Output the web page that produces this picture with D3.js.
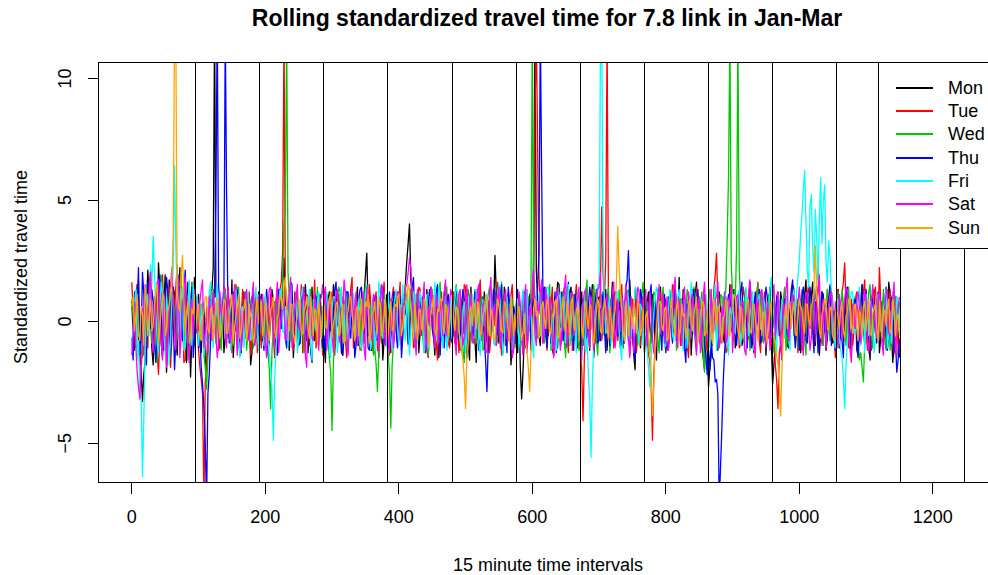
<!DOCTYPE html>
<html><head><meta charset="utf-8">
<script src="https://cdn.jsdelivr.net/npm/d3@7"></script>
<style>
html,body{margin:0;padding:0;background:#fff;}
svg{display:block;font-family:Arial,"Liberation Sans",sans-serif;}
</style></head><body>
<svg id="chart" width="988" height="575"></svg>
<script>
// Rolling standardized travel time, one series per weekday,
// sampled every 2nd 15-minute interval (one row below = one day).
const days = ["Mon", "Tue", "Wed", "Thu", "Fri", "Sat", "Sun"];
const sampleStep = 2;

const mon = [
.8,-.5,-1.2,.4,1.5,-.9,-.4,-2.0,-3.3,-2.2,-1.6,.7,2.1,1.0,.3,-1.1,-1.8,.6,1.2,-.3,2.4,1.3,-.9,-1.5,.6,1.9,-2.1,-.6,1.7,.2,-.3,1.4,1.1,-.8,-1.4,.5,2.2,-.2,.5,1.5,-.8,-1.7,1.6,.3,-2.3,-.7,.9,1.8,
-.5,.9,1.1,-.8,-1.3,.2,.7,-1.6,-2.0,-.9,.4,1.2,1.3,2.2,12.5,1.0,.9,-.4,-1.1,.8,.6,-1.3,-.7,.5,1.4,-.9,-.2,1.7,-1.5,-.3,.8,1.1,.3,-1.4,-1.0,.6,1.2,-.5,-.6,1.0,.5,-1.8,-1.3,.3,.9,-.7,-.4,1.2,
.4,1.1,-.8,-.2,1.0,.6,-1.4,-.7,.2,1.3,.9,-1.0,-.6,.4,1.3,.8,-.3,1.6,2.6,.7,.5,-.9,-1.2,.3,.8,-1.5,-.5,.9,1.1,-.4,-.9,1.2,.3,-1.1,1.5,.5,-1.3,-.2,.6,1.4,-.2,-.8,1.0,.2,-.7,1.1,.2,-1.2,
-.9,-1.7,.5,.9,1.2,-.4,-.3,1.5,-1.1,-.6,.7,.2,.2,-1.3,-1.4,.6,.9,1.2,-.6,-.2,1.3,.8,-.2,-1.0,.6,1.4,-1.0,.3,.4,-.7,1.1,1.9,2.8,.6,-.5,-1.2,-1.2,.4,.8,1.0,-.4,-1.5,1.0,.5,-1.6,-.8,.3,1.1,
.7,-.4,-1.3,.8,.4,1.2,-.2,-.9,1.0,.3,-.8,1.1,.5,1.6,2.5,3.2,4.0,1.7,.9,-.5,-.7,.6,1.2,-1.3,-.4,.9,.6,-.6,-1.1,1.3,.3,-.2,1.4,.7,-.6,-1.4,.8,.2,-1.5,1.0,.2,-.7,1.1,1.5,-.3,-.9,-1.0,.4,
.3,1.0,-.6,-1.1,1.1,.4,-1.2,.7,.8,-.5,-.1,1.3,-.9,-1.6,1.4,.2,.4,-.8,-1.7,.9,.7,1.5,.1,-.4,1.2,.6,-.8,-1.2,-.3,1.1,.6,.3,2.7,1.2,-.4,-.9,.9,.5,-1.3,1.4,.5,-.6,-.2,.8,-1.8,-1.0,.6,.2,
-.4,-1.3,.9,-1.9,-3.2,-2.1,-.7,.4,.6,-.3,1.1,.8,-.5,3.0,12.0,2.1,.8,-.6,-1.0,1.2,.4,-.4,1.3,.6,-.6,1.0,.2,-1.2,-1.4,.5,.9,1.6,1.5,-.2,-.3,.9,.7,-1.1,-.9,.3,1.2,1.4,-.5,-.8,.3,.7,-1.1,-.5,
.6,1.2,-1.0,-.3,1.3,.5,-.4,-1.2,.8,1.5,-1.5,-.6,.2,.9,1.0,-.8,-.7,.4,.5,1.3,-1.2,-.2,.9,.6,1.6,-1.0,-.3,.8,.4,-.5,-1.1,1.1,.7,-.9,1.2,.3,-.8,1.7,.3,-.4,-1.4,-2.0,1.0,.6,-.2,-1.1,.5,1.0,
-1.3,-.4,.7,1.2,-.2,-.9,1.1,.5,-.9,-1.6,.4,.9,1.4,-.3,-.6,1.0,.3,-1.1,-1.0,.7,1.2,-.5,-.4,1.5,.5,.1,1.8,-.8,-.7,1.3,.2,-.6,-1.2,.9,.9,-1.4,-.3,.4,1.1,1.6,-.8,-.2,.6,-1.0,-1.5,-2.0,.2,-1.2,
-2.7,-1.9,-1.4,-.3,.8,1.1,-.5,-1.2,1.2,.4,.3,-.7,-.9,1.0,.6,-.4,1.5,.8,-.2,1.3,-1.1,-.6,.7,1.2,.4,-1.0,-.8,.5,1.3,-.2,-.4,1.6,.9,-.9,-1.3,.3,.2,1.1,1.0,-.5,-.6,.9,.8,-1.4,-.3,.6,1.4,-.8,
-2.6,-1.8,-.9,.4,.5,-.6,1.2,.8,-.4,1.3,.7,-1.0,-1.1,.2,.3,1.5,1.3,-.3,-.6,.9,.9,-1.3,-.2,.6,1.1,1.7,-.7,-.2,.4,1.0,1.6,-.5,-1.0,.7,.2,-1.4,-.5,1.2,.8,.3,-1.2,-.7,.6,1.4,1.3,-.9,-.8,.5,
.4,1.3,-1.1,-.2,.9,-.8,-.3,1.1,1.4,.6,-.7,-1.4,.2,.8,1.0,-.5,-1.5,.4,.6,1.5,-.4,-.9,1.2,.3,-.9,-1.6,.5,.9,1.3,-.3,-.2,1.2,-1.3,-.7,.8,.5,.3,-1.1,-.6,1.6,1.1,-.4,-1.7,-1.0,.7,-.6,-.4,-1.5
];
const tue = [
1.6,.3,-.4,-1.1,.9,1.7,-1.8,-.6,.5,-1.4,1.3,.2,-1.1,1.5,2.0,-.4,-.6,1.0,.8,-1.3,-2.2,-.5,1.0,1.9,.3,-.8,-1.5,.6,1.4,-1.9,-.7,.9,.6,1.4,2.3,-.2,-.9,1.1,.4,-1.7,-1.6,.5,1.1,-.8,-.3,1.6,.7,-1.0,
.5,.9,-1.2,-1.9,-2.4,-3.0,-7.5,-2.5,-1.8,-.4,.6,1.2,1.1,-.6,-.3,.7,.8,-1.2,-1.0,.4,.4,1.4,1.3,-.2,-.7,.6,.9,-1.3,-.4,1.0,1.5,.3,-1.1,-.9,.2,1.3,.7,-.5,-.8,.8,1.2,-1.4,-.5,.2,.3,1.1,-1.3,-.4,
-.3,-1.1,.8,.3,-1.0,1.2,.5,-.6,1.1,.7,-.6,-1.5,.9,.2,-.4,1.3,1.6,2.9,12.0,1.4,1.0,-.7,-.8,.5,.4,-1.2,1.2,.9,-.9,-.3,.3,1.5,-1.3,-.6,.7,1.1,1.0,-1.0,-.2,.4,.6,1.7,-1.1,-.5,.8,.1,-.5,-1.4,
.9,1.4,-.7,-.2,.3,.9,1.2,-1.0,-1.4,-.3,.5,1.1,-.2,-.8,1.0,.6,-.8,-1.5,.6,.2,1.3,1.8,-1.1,-.4,.4,.8,-.5,-1.2,1.1,.3,-.9,1.0,.2,-.6,1.5,.7,-.6,-1.3,.8,1.2,-1.2,-.1,.3,-.9,1.0,1.6,-.4,.5,
-.8,-1.4,.6,1.0,1.4,.3,-.3,-.9,.9,1.6,-1.2,-.5,.5,.8,1.1,-.2,-.6,1.3,.2,-1.1,-1.0,.5,.8,1.4,1.3,-.6,-.4,.9,.7,-1.2,-1.5,-.3,.4,1.1,1.0,.5,-.9,-1.6,.3,.7,1.2,-.4,-.7,1.0,.5,-.8,-1.1,.2,
.6,1.2,-.9,-.2,.2,-1.3,1.1,.6,-.5,1.5,1.4,-.7,-1.2,.3,.4,1.0,.9,-.9,-.3,.5,1.2,1.7,-.8,-.4,.3,-1.1,1.0,.8,-1.3,-.6,.7,1.3,-.2,.2,1.6,-.5,-.5,-1.4,.9,1.1,-1.0,.4,.4,-.7,1.1,1.5,-.6,-.2,
-.2,.7,1.0,-.6,-.7,1.2,.5,-1.1,1.3,.4,-.4,.9,.8,1.6,8.5,12.0,7.1,1.8,.6,-.3,-.9,.8,1.2,-1.2,-.3,.5,.7,1.4,-1.4,-.7,1.0,.2,.2,-1.0,-.8,1.1,1.4,.6,-.5,-1.3,.6,.9,-1.2,-.4,.9,1.5,.3,-.8,
-1.2,-2.0,-4.1,-1.5,-.6,.7,.8,-.4,-.3,1.3,1.1,-.9,-.7,.5,.5,1.4,4.7,2.0,.9,2.5,12.0,1.2,-.4,.3,.6,-1.1,1.2,.8,-.8,-.2,.3,1.5,-1.1,-.6,.7,.2,1.0,-1.4,-.5,.9,.4,1.3,-1.3,-.5,.8,-1.0,-.2,.6,
.5,1.0,-.8,-1.4,-1.6,-2.6,-4.9,-2.2,-1.0,.3,.7,1.2,1.2,-.5,-.4,.8,.9,-1.2,-1.1,.4,.3,1.5,1.4,-.3,-.6,.6,.8,-1.0,-.2,1.2,1.1,.5,-.9,-1.5,.4,.9,1.3,-.2,-.7,1.4,.5,-.8,-1.0,.3,.6,1.1,-.3,-1.2,
-.4,-1.0,.9,.3,1.3,1.9,2.8,.7,.5,-.6,-.9,1.0,.3,-1.3,-1.2,.4,.8,1.5,1.1,-.2,-.5,.9,.6,-1.1,-1.0,.5,1.4,1.0,.2,-.8,-.7,1.2,.9,-.4,-.3,.8,1.1,1.6,-.8,-1.3,.4,.6,1.2,-.2,-.6,1.0,.2,-.9,
-1.1,-.5,-1.8,-2.4,-3.6,-1.3,-.9,.2,.6,1.1,1.0,-.7,-.4,.6,.8,1.4,1.3,-.2,-.6,-1.3,.2,.9,-1.2,.4,.7,-.6,1.1,1.5,-.3,.3,.5,-1.0,-.8,.7,1.4,1.1,-.5,-.9,.9,.4,-1.1,1.3,.4,-.4,1.2,.8,-.7,-1.5,
.8,1.3,-.6,.2,1.1,1.6,2.4,.5,-.3,-1.1,.5,.9,-1.0,-.4,.9,1.2,.3,-.8,-.7,.6,1.2,1.7,-.4,-1.2,.6,.3,-1.2,-.6,1.0,1.4,.4,-.2,2.2,.8,-.5,-1.0,.7,1.1,-.9,-.3,1.3,.6,-.3,-1.3,.8,1.0,-1.4,-.7
];
const wed = [
.9,.2,-.6,1.1,1.3,-.5,.4,-1.2,-1.5,-.3,.8,1.4,-.3,.6,1.6,-.9,.2,1.0,-1.1,-1.7,.7,.3,1.9,1.2,-.8,-.4,.5,1.3,-1.3,-.6,1.2,.8,.3,-1.0,-.7,.5,1.5,2.0,-.4,-1.1,.9,.4,-1.6,-.8,.6,1.5,1.1,-.2,
.3,1.0,-.9,-.3,.7,.4,-1.4,-1.9,-2.8,-1.5,-.6,.5,.8,1.3,-.2,-.9,1.1,.6,-.7,-1.2,.5,1.1,1.2,-.4,-.4,.8,.9,-.6,-1.0,.3,.3,1.4,1.4,-.7,-.5,.5,.6,1.2,-1.2,-.5,.2,.8,1.0,-1.1,-.8,.6,.4,1.0,
-.5,.4,1.0,-.7,-.8,.6,-1.3,-2.0,-3.6,-1.2,-.4,.8,.7,-.3,1.1,.5,.5,1.6,4.0,4.5,12.0,2.0,.9,-.8,-.6,.4,.3,1.2,1.2,-.5,-.9,.9,.4,-1.3,-1.1,.2,.8,1.0,1.3,-.6,-.5,.7,.2,1.4,-1.0,-.3,.6,-1.2,
.6,1.1,-.3,-.9,-1.5,-2.1,-4.5,-1.7,-.8,.3,.9,1.4,1.2,-.2,-.6,.7,.4,-1.1,-1.0,-.5,.7,1.2,1.1,.4,-.3,-1.0,.5,.9,-1.2,-.6,.8,1.5,1.3,-.3,-.4,.6,.2,-1.4,-1.1,-1.8,-2.9,-1.2,-.7,.5,.9,1.2,-.2,-.8,
-1.3,-2.2,-4.4,-1.8,-.9,.3,.6,1.2,1.0,-.4,-.5,.8,.8,1.5,-.2,-1.0,1.3,.5,.4,-.6,-.9,1.1,.6,-.2,1.1,.7,-.7,-1.3,.3,.9,-1.4,-.5,.9,1.3,.2,-.9,-.5,.4,1.2,1.6,-.8,-.3,.5,1.0,1.4,-.7,-.6,.6,
.4,-.6,1.1,1.5,-.7,-.2,.3,.9,-1.2,-1.7,.8,.2,1.3,1.0,-.4,-.9,.6,1.3,-.9,-.3,.2,.7,1.0,-1.2,-1.1,.4,.7,1.1,1.4,-.5,-.3,.8,.5,-1.0,-.8,.3,.9,1.6,-1.3,-.6,.4,1.0,1.2,-.4,-.6,.9,.3,-1.1,
-.6,.4,.9,-1.1,-.3,.7,1.2,-.5,-.8,1.0,.5,1.4,12.0,1.9,1.0,-.6,-.7,.8,.4,1.3,1.3,-.9,-.5,.2,.8,1.5,-1.2,-.4,.3,.6,1.1,-1.1,-.4,.9,.6,1.2,-.9,-1.5,1.4,.3,.2,-.8,-.7,1.1,1.0,.5,-.3,-1.2,
.7,-.3,-1.0,.5,1.2,1.7,-.4,-1.1,.6,.2,1.5,.8,-.8,-1.4,.3,1.0,1.1,-.5,-.6,.6,.9,1.4,-1.3,-.7,.4,.9,1.0,-.2,-.2,1.3,.7,-.8,-1.1,.4,.5,1.2,1.3,-.6,-.7,.3,.2,1.1,.9,-1.0,-.5,.6,1.1,1.6,
-.4,.6,.8,-.9,-1.3,-.2,.5,1.2,1.1,.3,-.7,-1.3,.3,.8,1.4,-.4,-.9,.5,.6,1.1,-.2,-.8,1.0,1.5,-1.2,-.6,.4,.9,.9,-1.1,-.5,.3,1.3,1.0,-.8,-.3,.2,1.4,1.1,-.7,-.6,.4,.7,1.2,-1.4,-2.1,.5,-.4,
.9,1.3,-.5,-1.0,1.2,.4,-.8,.7,.4,1.1,1.0,-.4,.6,1.4,3.5,6.0,12.0,2.4,1.1,.8,.7,3.0,12.0,2.2,.8,-.3,-.6,.9,1.3,.5,-.3,-1.2,.5,1.0,-1.1,-.5,.9,1.5,-.4,.2,1.2,-.9,-.7,.6,.3,1.1,1.0,-.6,
-.7,-1.3,.5,.9,1.1,-.2,-.4,.6,.8,1.4,-1.2,-.5,.3,-.9,1.0,1.2,-.6,.4,.9,-1.1,-.3,.7,1.3,.2,-.8,-1.4,.6,1.0,1.2,-.3,-.5,.8,.9,1.6,2.4,1.2,.4,-.7,-1.0,.5,.7,1.3,-.3,-.8,1.1,.4,-.6,-1.2,
.6,1.2,-.9,-.3,1.3,.7,-.2,-1.0,.7,1.4,-1.1,-.5,.4,.9,1.0,-.7,-.5,-1.6,-1.3,-1.9,-2.5,-.9,.8,.3,1.2,1.5,-.4,-1.1,.6,.2,-.8,.9,1.1,-.4,.3,1.3,-.6,-1.2,.9,.5,-1.2,-.3,.5,1.1,1.0,-.6,-.3,.8
];
const thu = [
-.7,-1.6,1.2,.3,.5,2.2,-1.4,-.6,2.0,1.1,-.9,-1.8,1.6,.5,-.3,1.3,.8,-1.0,-1.7,-.4,1.1,1.9,.4,-.9,-1.2,.7,1.8,1.2,-.5,-1.4,.9,.2,-2.0,-.8,.6,1.5,1.3,-.3,-.8,1.0,2.1,.6,-.4,-1.2,.7,1.4,-1.5,-.7,
.4,1.0,-1.1,-.6,-1.9,-2.6,-3.5,-5.0,-7.5,-3.0,-2.2,-.8,.9,.3,1.4,5.0,12.5,1.5,.6,-.4,1.0,1.2,12.0,5.2,.5,-.6,-.8,.9,1.2,-.2,-.4,1.3,.9,-.9,-1.3,.4,.3,1.0,1.1,-.7,-.6,.5,.8,1.4,-1.0,-.3,.4,-1.2,
1.0,.4,-.5,-1.2,.7,1.3,-1.2,-.3,.3,.8,.9,-.6,-.8,-1.4,1.3,.5,-.3,1.0,.6,-.7,-1.1,-.2,.8,1.6,1.5,-.4,-.6,.9,.2,-1.0,-.9,.3,1.2,1.4,-.4,-.8,.7,.2,-1.3,-1.7,.5,1.1,1.0,-.5,-.7,.6,.3,-1.1,
-.6,-1.3,1.1,.4,-.9,.7,.4,-.5,1.3,1.6,-.2,.3,.8,-1.0,-1.4,-.6,.5,1.2,1.2,-.3,-.7,.8,.3,-1.5,-1.0,.2,.9,1.3,1.4,-.4,-.5,.9,.6,-1.1,-1.2,-.2,.2,1.0,1.0,-.7,-.8,.4,.5,1.5,1.3,-.9,-.6,.3,
.5,1.2,-.8,-.2,1.2,.6,-.3,-1.1,.7,1.0,-1.5,-.6,1.1,.3,.2,-.9,-.9,.7,1.4,1.8,-.4,-1.2,.8,.2,-.2,.9,1.0,-.5,-1.3,-.8,.6,1.3,.9,-.3,-.7,.5,1.2,1.5,-.5,-1.4,.3,.8,-1.1,-.2,.8,1.1,.4,-.7,
-.9,-.3,.6,1.3,1.0,-.8,-.4,.5,1.3,.9,-.8,-1.5,.2,.6,1.1,-.4,-.6,1.2,.9,-.2,-1.2,-.7,.5,1.0,-.7,-1.6,-2.9,-1.0,.8,.4,-.3,1.3,1.2,-.6,-.5,.8,.9,1.5,-1.0,-.4,.4,-1.3,1.4,.7,-.7,.2,.6,-.9,
.7,1.3,-1.1,-.4,.4,-.9,1.2,.6,-.6,.2,.9,-1.2,-.3,.8,1.0,-.5,1.5,2.8,12.0,6.0,.8,1.4,-.5,-1.1,1.1,.3,-.9,-.2,.3,1.2,-1.3,-.6,.6,1.0,1.2,-.8,-.4,.5,.8,1.6,-1.0,-.3,.5,-1.2,1.1,.7,-.8,.3,
-.5,-1.2,.9,.3,-1.2,-.6,.6,1.4,1.0,-.2,-.4,.7,1.3,-.9,-.8,.5,.5,1.2,-.2,-1.3,1.1,.4,-1.0,-.5,.7,1.1,1.2,-.4,-.6,.8,.4,-1.0,-.9,.3,1.4,1.7,2.9,.9,.3,-.6,-1.1,-1.6,.8,.2,-.5,1.3,1.0,-.4,
.3,.9,-1.0,-.4,1.1,1.5,-.6,.2,.8,-.7,1.3,.6,-.4,-1.2,.6,1.1,-1.3,-.5,1.0,.3,-.2,-.9,.9,1.4,-.8,.2,1.2,-.6,.4,1.0,-1.1,-1.7,.7,-.2,-.3,.8,1.0,1.3,-.6,-1.1,1.3,.4,-.9,-.3,.5,-1.0,-1.4,-2.2,
-1.2,-2.0,-.8,-1.5,-1.6,-2.5,-2.4,-3.0,-7.5,-6.0,-4.4,-2.5,-1.3,-.4,.6,1.1,1.1,-.3,-.5,.8,.9,-1.0,-.2,.5,1.2,1.6,-.7,-.2,.4,-1.1,1.0,.7,-1.1,-.5,.6,1.2,-.3,.3,1.3,-.9,-.8,.6,.5,1.4,1.0,-.7,-.6,.2,
.8,-.2,-.5,1.0,1.2,.3,-1.0,-1.6,.4,.9,.9,-.5,-.7,.6,1.3,1.7,-.3,-1.1,.6,.2,-1.2,-.4,1.0,1.4,.5,-.8,-.9,.5,1.4,.8,-.4,-1.3,.8,.3,-1.3,-.6,.2,1.2,1.1,-.4,-.6,.7,.9,1.5,-1.0,-.5,.4,-1.2,
-.4,.5,1.0,-.7,-.8,-1.5,.6,1.3,1.2,.2,-1.1,-.4,.3,.8,.9,-1.2,-1.4,-.3,.7,1.5,-.2,.4,1.3,-.6,-.6,-1.2,1.0,.7,.4,-.5,-.9,1.1,1.2,.2,-.3,-1.0,.8,1.4,-1.2,-.6,.5,.9,1.1,-1.3,-.7,-2.1,-1.6,-.8
];
const fri = [
-.9,-.3,.7,1.3,-1.6,-.8,-2.8,-3.3,-6.4,-4.0,-1.2,.5,1.1,-.6,2.3,1.5,3.5,2.0,.4,-.9,-1.3,.6,1.6,1.1,-.5,-1.4,1.0,.3,-1.8,-.7,.8,2.2,6.4,3.0,1.2,-.4,-.7,.9,1.4,-1.2,-1.1,.2,.6,1.7,-.3,-1.0,1.5,.4,
.6,1.1,-1.0,-.3,.3,.8,-1.4,-.6,-.8,.4,1.2,1.6,-.4,-1.1,.9,.2,1.5,-.5,-.6,.7,1.1,1.3,-.2,-.9,.7,.3,-1.2,-.5,.4,1.0,1.3,-.2,-.9,-1.5,.5,.6,-1.1,-.2,.8,1.2,.2,-.8,-.7,.5,1.0,1.4,-.5,-1.2,
.9,.3,-.3,-1.0,1.1,.6,-.8,-1.4,-1.9,-2.8,-4.9,-2.4,-1.2,-.3,.7,1.3,1.2,-.4,-.5,.6,.4,-1.1,1.0,1.5,-.9,-.2,.6,.9,-1.3,-.7,.8,1.1,1.4,-.5,-.2,.4,.5,1.3,-1.0,-1.6,.9,.2,-.4,.8,1.2,-.6,-.7,.5,
-.3,.6,1.2,-.2,-.9,-1.5,.5,1.0,1.0,.3,-1.3,-.6,.6,1.4,-.4,-.9,1.3,.5,-.8,-.1,.2,1.2,1.1,-.7,-.6,.4,.9,-1.0,-1.1,-.3,.4,1.1,1.5,.7,-.5,-1.2,.8,.2,-1.2,-.6,.3,1.6,1.0,-.4,-.7,.9,.6,-1.1,
1.1,.5,-.6,-1.2,.4,.9,1.3,-.3,-1.0,.6,.7,1.5,-.3,-.8,1.0,.2,-1.4,-.5,.8,1.2,.5,-1.0,-.9,.4,1.2,.8,-.2,-1.3,.6,1.1,-1.1,-.4,.9,.3,.3,1.6,-.8,-.2,1.4,.6,-.5,-1.1,.7,1.0,-1.2,-.6,.2,.9,
-.5,.2,.9,1.4,1.2,-.4,-.7,-1.3,.3,.8,-1.3,-.6,1.0,.4,-.4,1.1,.8,-.7,1.3,.2,-.9,-1.4,.5,.9,-.2,.6,1.1,-.5,-.6,1.3,.4,-.9,-1.0,.2,1.2,1.5,.7,-.3,-1.4,-.8,.6,1.0,-.3,.5,1.0,-1.2,-.8,.3,
.4,.9,-1.1,-.4,.8,1.3,-.5,.2,1.3,-.8,.2,.7,-.9,-1.5,1.0,.4,-.3,1.1,1.2,-.6,-.7,.3,.6,1.4,1.4,-.3,-.6,-1.1,.3,.8,-1.2,-.5,.9,1.2,-.4,.6,1.1,-.9,.5,1.5,-1.0,-.2,.7,.4,-.2,-1.3,1.3,.6,
-.8,-.2,.6,1.1,-1.3,-.7,-2.2,-3.2,-5.6,-2.5,-1.0,.4,.7,1.5,1.3,11.0,12.0,3.0,.9,-.5,-.4,.6,1.0,-.9,-.7,.3,.5,1.2,1.2,-.4,-1.1,-1.6,.8,.5,-.3,1.0,1.0,-.8,-.6,.2,.4,1.4,1.3,-.3,-.9,.7,.5,-1.0,
.3,-.6,-1.2,-1.9,-2.7,-1.5,-.6,.3,.9,1.4,1.1,-.3,-.5,.7,.8,-1.1,-1.0,.2,.4,1.3,1.2,-.6,-.8,.5,.6,1.0,1.3,-.4,-.4,-1.2,.9,.3,-1.1,.8,.2,1.6,1.0,-.5,-.7,-1.3,.5,.4,-1.3,.9,.8,-.2,1.1,.5,
-.6,-1.1,1.0,.2,.4,1.5,-1.2,-.4,.7,-.9,-.3,.6,1.2,1.0,-.8,-1.4,.6,.3,1.1,-.2,-.5,.8,.9,1.3,-1.0,-.5,.3,-1.2,1.4,.7,-.6,.2,.8,1.2,-1.2,-.7,.5,.9,1.1,-.3,-.4,1.0,.7,-.8,-.9,.4,1.3,1.8,
.7,.2,-.9,-1.4,1.1,.6,-.4,.9,.6,-.7,1.0,.4,-.8,-1.2,.5,1.0,1.3,.2,1.2,1.8,2.5,3.6,4.4,5.4,6.2,4.1,2.1,1.4,4.8,5.2,3.0,2.0,4.6,3.5,1.7,4.1,5.9,3.2,4.9,5.6,2.4,1.6,3.3,2.6,1.2,.3,-.6,-1.1,
.5,.9,-.7,-1.2,-1.5,-2.4,-3.6,-1.8,-.9,.3,.8,1.2,1.2,-.5,-.4,.6,.9,1.4,-1.0,-.6,.3,-1.3,1.1,.5,-.6,.8,.8,-.2,-1.3,-.7,.5,1.1,1.0,-.4,-.2,.6,.7,1.3,-1.1,-.5,.4,-.9,1.2,.3,-.5,1.0,.9,-.3
];
const sat = [
-1.4,-.5,.8,-1.0,-2.1,-2.7,-3.2,-2.0,-1.0,.6,1.5,.3,-.6,1.2,2.0,.4,-1.3,-.7,.9,1.6,1.7,-.2,-.8,-1.6,1.2,.5,-1.9,-.9,.5,1.4,2.2,.8,-.4,-1.2,1.0,1.9,-1.5,-.6,.7,1.1,1.8,-.3,-1.0,-1.7,.3,.9,-.6,1.3,
.9,-.2,-.4,.8,1.3,1.7,-1.1,-.5,.6,-1.3,1.0,.4,-.8,1.2,.4,-.6,-1.5,-.9,1.2,.3,.2,1.4,-.6,-1.1,1.4,.7,-.9,-.3,.7,1.5,-.3,-1.4,1.1,.5,-1.2,-.4,.5,1.0,1.3,-.8,-.7,.2,.9,1.6,-1.0,-.5,.6,1.1,
-.3,.7,1.1,-.6,-.9,-1.5,.6,1.3,1.4,.2,-.5,-1.1,.8,1.6,-1.3,-.4,.3,.9,1.0,-.8,-.7,.5,1.2,1.8,-1.1,-.6,.5,1.0,1.5,-.2,-.4,.6,.9,1.4,-1.4,-1.9,.6,.3,1.1,-.7,-.8,1.2,.4,-.3,-1.2,.8,1.0,1.5,
.7,1.4,-1.2,-.4,1.0,.3,-.5,-1.3,.4,1.1,1.3,-.6,-.9,.5,.6,1.7,1.1,-.7,-1.4,-.2,.8,1.3,-.2,.6,1.2,-1.0,-.6,.4,.3,1.2,-1.1,-1.6,1.4,.2,.5,-.5,-.8,1.1,1.0,.7,-.4,-1.2,.7,1.5,1.2,-.3,-1.0,.4,
-.6,-1.3,.9,.3,-1.1,-.5,.5,1.2,1.2,-.8,-.4,.6,.8,1.4,1.5,2.0,2.6,2.2,1.0,.4,-.7,-1.4,1.3,.8,-.5,.2,.9,1.6,-1.2,-.7,.6,-.2,1.4,1.0,-.3,-1.1,1.1,.5,-.9,.9,.4,-.6,1.2,1.7,-.6,-.1,.8,1.3,
1.0,.3,-.7,-1.4,.5,1.1,1.3,-.2,-1.0,-.6,.6,1.5,-.3,.4,1.2,-.8,-.9,.2,.4,1.3,1.5,-.5,-.6,.7,.8,-1.2,-1.3,-.4,1.1,1.8,-.4,.5,.7,-1.0,1.0,1.4,-1.1,-.3,.5,.9,1.3,-.7,-.8,.6,.2,-1.5,-1.2,-.2,
.4,-.3,1.2,.7,-.8,-1.4,.9,1.5,-1.3,-.5,.6,.2,1.6,2.1,-.5,-1.0,.8,.3,1.1,1.7,-.9,-.4,1.4,.6,-.3,1.0,.7,-.8,-1.5,-.6,1.0,1.3,.4,-1.2,-.7,.5,1.3,1.9,-1.0,-.2,.6,1.1,1.2,-.6,-.4,.8,.9,1.4,
-.9,-1.6,.7,1.2,1.3,.4,-.5,-1.1,1.0,.6,-1.2,-.3,.6,1.3,1.4,2.0,-.8,-.2,.3,.9,1.1,-.7,-.6,.5,1.2,1.6,-1.1,-.5,.9,.2,-.4,1.1,.6,-.9,1.5,.8,-.7,-1.5,1.0,.3,-1.3,-.4,.8,1.4,1.2,-.6,-.5,1.0,
.6,1.3,-1.0,-.4,1.2,.5,-.7,-1.3,-1.4,-.6,.9,1.5,-.5,.2,1.1,-.9,.4,1.0,-1.2,-.5,.8,.3,1.3,1.8,-.6,-1.1,.9,.4,-1.0,.7,1.4,-.2,-.3,1.2,.7,-.7,1.1,.6,-.8,-1.4,.5,1.0,-1.3,-.2,1.0,1.6,.3,-.8,
-.8,.2,1.3,-.5,-.4,.9,1.0,1.6,-1.1,-.7,.6,.1,1.2,-.9,-.7,.5,.9,1.4,-1.3,-.4,.5,1.0,1.1,-.6,-.2,.7,.8,-1.2,-1.4,-.3,1.2,1.7,.6,-.2,-.9,-1.5,1.0,.4,-.5,1.2,1.3,.6,-.6,-1.1,.8,.3,-1.2,-.5,
.9,1.5,-.6,-.1,1.2,.4,-1.0,-1.5,.7,.2,1.3,1.8,-.8,-.3,.5,1.1,1.0,-.6,-.4,.7,1.4,.5,-.9,-1.4,.6,1.2,1.1,-.3,-1.2,-.7,.8,1.3,-.5,.3,1.3,1.9,-.3,-1.0,.9,.5,-1.1,-.4,.6,1.1,1.2,-.5,-.7,.8,
-.5,-1.1,1.1,.6,-.8,.2,.9,1.4,1.3,-.4,-1.2,-1.7,.7,.3,-.3,1.0,1.2,.6,-.9,-.2,.5,1.2,1.0,-.8,-1.3,-.5,.8,1.5,.4,-.3,-.7,.9,1.2,.4,-1.0,-1.4,.6,1.1,1.3,-.5,-.6,.7,.9,1.6,-1.4,-.6,.5,1.0
];
const sun = [
.6,1.0,-.4,.3,1.1,-.5,-.8,.6,.3,-1.0,1.4,.8,-.6,.2,.9,-.4,-.2,.7,1.2,1.5,-.9,-.3,.5,1.1,1.0,-.6,-.3,.4,.7,1.2,1.6,3.5,12.0,11.5,1.3,.6,.4,1.9,2.7,1.0,-.5,.3,.8,-.9,-.7,.5,.3,1.1,
-.3,.4,.7,-.6,-.8,.2,.4,1.0,1.0,-.3,-.5,.5,.6,-.8,-.2,.7,.9,.1,-.7,-.4,.3,.9,.8,-.5,-.5,.3,.6,1.1,-.9,-.2,.2,.6,1.1,-.7,-.4,.4,.5,.9,-.8,-.3,.7,.2,.1,-.9,-.6,.5,.9,-.1,
.4,.8,-.6,-.2,.8,.3,-.3,-.8,.5,.6,1.0,-.4,-.7,.2,.3,1.1,.9,.5,1.4,1.8,.6,.2,-.4,.7,.7,-.5,-.9,-.1,.2,.9,.8,-.6,-.5,.4,.6,1.0,-.3,-.7,1.0,.3,-.6,.5,.4,-.9,.8,.2,-.7,.6,
.6,-.2,-.3,.5,.9,1.2,-.7,-.1,.2,.7,.8,-.6,-.5,.3,.7,-.9,-.8,.2,.4,1.0,1.0,.4,-.3,-.8,.5,.6,-.6,.2,.9,-.4,-.2,.8,.6,1.1,-.9,-.5,.3,.4,.8,-.2,-.5,.9,.7,-.6,-.4,.3,.9,-.7,
-.5,.2,.8,-.4,-.3,.7,.6,1.0,1.1,.3,-.6,-.2,.4,.8,.9,1.5,1.3,.5,-.2,-.7,.7,.1,-.8,.4,.5,-.3,-.4,.9,.8,.2,-.7,-1.0,.3,.6,1.0,-.4,-.6,.5,.4,.9,.9,-.2,-.5,.7,.6,-.6,-.2,.3,
.7,.2,-.4,.6,.5,-.3,-.9,-1.2,-1.6,-2.3,-3.6,-1.4,-.8,.4,.6,-.2,.9,.5,-.3,.8,.7,-.6,-.5,.3,.4,1.1,.8,-.2,-.6,.5,.3,-.7,-.8,.2,.9,.6,.2,-.4,-.5,.8,.7,.1,-.4,-.9,1.0,.4,-.6,.2,
-.4,.3,.6,-.2,-.8,-.4,.3,-.9,-1.2,-1.9,-2.9,-1.3,-.5,.5,.9,.2,.4,-.7,-.6,.6,.8,.1,-.3,.9,.7,-.4,-.5,.3,.2,.8,.9,-.6,-.7,.2,.5,1.0,-.2,-.5,.8,.4,-.6,.7,1.0,-.2,-.4,.5,.6,-.8,
.5,-.2,-.7,.4,.8,.1,-.3,.7,.6,-.5,-.9,-.2,.4,.9,.7,-.4,-.5,.3,.9,.6,-.2,-.8,.6,.2,-.8,-.1,.5,1.6,3.9,2.2,1.2,.5,-.4,-.8,.8,.3,-.6,.6,.3,-.3,.9,.4,-.5,.8,.7,-.6,-.3,.5,
-.6,.2,.4,-.5,-1.3,-2.2,-3.9,-2.6,-1.1,-.3,.5,.8,.8,-.2,-.4,.5,.6,-.8,-.7,.1,.9,.4,-.2,-.6,.5,.9,-.8,-.3,.7,.2,.3,-.7,-.5,.6,.9,-.1,-.4,.3,.6,1.0,-.9,-.4,.4,.7,.8,-.6,-.5,.2,
.7,.2,-.5,-.9,.9,.4,-.2,.6,.6,-.3,-.8,.1,.3,.9,.8,-.5,-.6,.2,.5,1.1,1.0,.3,-.4,-.7,.6,.5,-.7,-.2,.3,.8,.9,-.4,-.5,.6,.7,.1,-.3,-.8,.8,.4,-.6,.3,.4,-.5,-.9,-.2,.5,.8,
-.4,-.7,-.9,-1.4,-1.8,-2.6,-3.9,-2.0,-.6,.2,.7,-.3,.5,.8,-.3,.4,.8,-.5,-.6,.3,.9,.6,.4,-.2,-.5,.7,.7,.1,-.2,.6,.8,1.4,3.1,1.2,.6,-.4,-.7,.3,.5,.9,.9,-.3,-.4,.5,.6,-.6,-.8,.2,
.6,.1,-.3,.5,.8,-.4,-.7,.2,.4,.9,.9,-.2,-.5,.6,.7,-.3,-.8,.4,.3,-.6,.6,.8,-.4,.2,.9,-.5,-.6,.3,.5,.7,-.3,-.8,.8,.2,-.7,.5,.4,-.2,.6,.9,-.5,-.3,.9,.4,-.6,.1,.3,-.6
];

const xTicks = [0, 200, 400, 600, 800, 1000, 1200];
const yTicks = [-5, 0, 5, 10];
// day boundaries (96 intervals per day)
const dayBreaks = [96, 192, 288, 384, 480, 576, 672, 768, 864, 960, 1056, 1152, 1248];

const series = [mon, tue, wed, thu, fri, sat, sun];
const colors = ["#000000", "#ff0000", "#00c800", "#0000ff", "#00ffff", "#ff00ff", "#ffa500"];

const svg = d3.select("#chart");
const pL = 98.5, pR = 997.5, pT = 62.5, pB = 482.5;
const x = d3.scaleLinear().domain([-48.9, 1297.9]).range([pL, pR]);
const y = d3.scaleLinear().domain([-6.64, 10.64]).range([pB, pT]);

svg.append("defs").append("clipPath").attr("id", "plotArea")
  .append("rect").attr("x", pL).attr("y", pT)
  .attr("width", pR - pL).attr("height", pB - pT);

const plot = svg.append("g").attr("clip-path", "url(#plotArea)");

const line = d3.line()
  .x((d, i) => x(1 + i * sampleStep))
  .y(d => y(d));

series.forEach((vals, k) => {
  plot.append("path")
    .attr("d", line(vals))
    .attr("fill", "none")
    .attr("stroke", colors[k])
    .attr("stroke-width", 1.3)
    .attr("stroke-linejoin", "round");
});

plot.selectAll("line.daybreak").data(dayBreaks).enter().append("line")
  .attr("class", "daybreak")
  .attr("x1", d => Math.round(x(d)) + 0.5).attr("x2", d => Math.round(x(d)) + 0.5)
  .attr("y1", pT).attr("y2", pB)
  .attr("stroke", "#000").attr("stroke-width", 1)
  .attr("shape-rendering", "crispEdges");

// plot frame
svg.append("rect")
  .attr("x", pL).attr("y", pT)
  .attr("width", pR - pL).attr("height", pB - pT)
  .attr("fill", "none").attr("stroke", "#000").attr("stroke-width", 1)
  .attr("shape-rendering", "crispEdges");

const font = "Arial, 'Liberation Sans', sans-serif";

// x axis
const gx = svg.append("g").attr("transform", `translate(0,${pB})`)
  .call(d3.axisBottom(x).tickValues(xTicks).tickSize(11).tickFormat(d3.format("d")));
gx.select(".domain").remove();
gx.selectAll(".tick line").attr("stroke", "#000").attr("shape-rendering", "crispEdges");
gx.selectAll(".tick text")
  .attr("y", 34.5).attr("dy", null)
  .attr("dominant-baseline", "central")
  .attr("font-size", 18).attr("font-family", font).attr("fill", "#000");

// y axis
const gy = svg.append("g").attr("transform", `translate(${pL},0)`)
  .call(d3.axisLeft(y).tickValues(yTicks).tickSize(11).tickFormat(d3.format("d")));
gy.select(".domain").remove();
gy.selectAll(".tick line").attr("stroke", "#000").attr("shape-rendering", "crispEdges");
gy.selectAll(".tick text")
  .attr("x", 0).attr("dy", null)
  .attr("transform", "translate(-34,0) rotate(-90)")
  .attr("text-anchor", "middle")
  .attr("dominant-baseline", "central")
  .attr("font-size", 18).attr("font-family", font).attr("fill", "#000");

// titles
svg.append("text")
  .attr("x", 547).attr("y", 18)
  .attr("text-anchor", "middle").attr("dominant-baseline", "central")
  .attr("font-size", 23).attr("font-weight", "bold").attr("font-family", font)
  .text("Rolling standardized travel time for 7.8 link in Jan-Mar");

svg.append("text")
  .attr("x", 548).attr("y", 565)
  .attr("text-anchor", "middle").attr("dominant-baseline", "central")
  .attr("font-size", 18).attr("font-family", font)
  .text("15 minute time intervals");

svg.append("text")
  .attr("transform", "translate(20.5,267) rotate(-90)")
  .attr("text-anchor", "middle").attr("dominant-baseline", "central")
  .attr("font-size", 18).attr("font-family", font)
  .text("Standardized travel time");

// legend
const lg = svg.append("g");
lg.append("rect")
  .attr("x", 878.5).attr("y", pT)
  .attr("width", pR - 878.5).attr("height", 248 - pT)
  .attr("fill", "#fff").attr("stroke", "#000").attr("stroke-width", 1)
  .attr("shape-rendering", "crispEdges");
const rowY = d3.scaleLinear().domain([0, days.length - 1]).range([87.5, 227.5]);
const items = lg.selectAll("g.item").data(days).enter().append("g").attr("class", "item");
items.append("line")
  .attr("x1", 896).attr("x2", 933)
  .attr("y1", (d, i) => Math.round(rowY(i))).attr("y2", (d, i) => Math.round(rowY(i)))
  .attr("stroke", (d, i) => colors[i]).attr("stroke-width", 2);
items.append("text")
  .attr("x", 948).attr("y", (d, i) => rowY(i))
  .attr("dominant-baseline", "central")
  .attr("font-size", 18).attr("font-family", font)
  .text(d => d);
</script>
</body></html>
